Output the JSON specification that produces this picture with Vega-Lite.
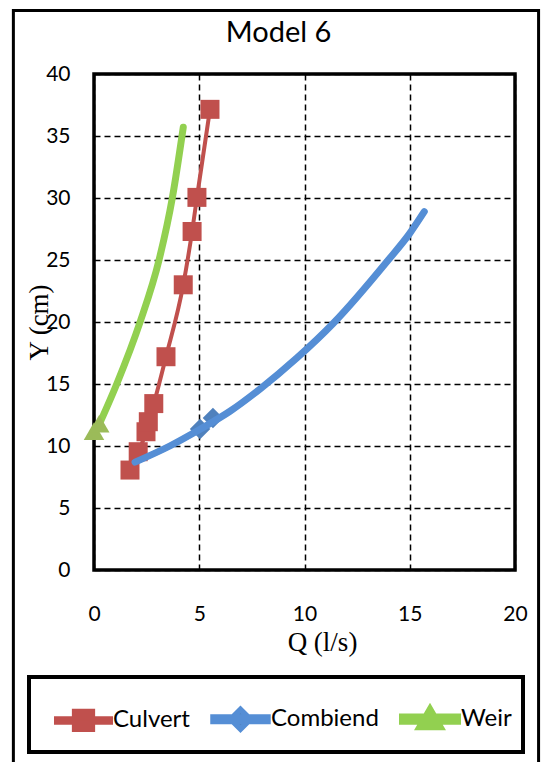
{
  "$schema": "https://vega.github.io/schema/vega-lite/v6.json",
  "width": 421,
  "height": 496,
  "autosize": "none",
  "padding": {"left": 94, "top": 74, "right": 27, "bottom": 192},
  "background": "white",
  "title": {"text": "Model 6", "font": "Lato", "fontSize": 29, "fontWeight": "normal", "color": "black", "anchor": "middle", "dx": -26, "offset": -38.5},
  "datasets": {
    "curves": [
      {"series": "Culvert", "Q": 1.71, "Y": 8.06},
      {"series": "Culvert", "Q": 2.1, "Y": 9.54},
      {"series": "Culvert", "Q": 2.47, "Y": 11.15},
      {"series": "Culvert", "Q": 2.58, "Y": 11.96},
      {"series": "Culvert", "Q": 2.84, "Y": 13.42},
      {"series": "Culvert", "Q": 3.42, "Y": 17.2},
      {"series": "Culvert", "Q": 4.24, "Y": 23.0},
      {"series": "Culvert", "Q": 4.66, "Y": 27.3},
      {"series": "Culvert", "Q": 4.89, "Y": 30.05},
      {"series": "Culvert", "Q": 5.51, "Y": 37.15},
      {"series": "Combiend", "Q": 1.95, "Y": 8.7},
      {"series": "Combiend", "Q": 3.6, "Y": 10.0},
      {"series": "Combiend", "Q": 5.04, "Y": 11.35},
      {"series": "Combiend", "Q": 6.46, "Y": 12.8},
      {"series": "Combiend", "Q": 7.89, "Y": 14.6},
      {"series": "Combiend", "Q": 9.64, "Y": 17.1},
      {"series": "Combiend", "Q": 11.37, "Y": 19.9},
      {"series": "Combiend", "Q": 13.98, "Y": 25.0},
      {"series": "Combiend", "Q": 15.0, "Y": 27.15},
      {"series": "Combiend", "Q": 15.69, "Y": 28.9},
      {"series": "Weir", "Q": 0.13, "Y": 11.3},
      {"series": "Weir", "Q": 1.08, "Y": 15.0},
      {"series": "Weir", "Q": 2.19, "Y": 20.0},
      {"series": "Weir", "Q": 3.09, "Y": 25.0},
      {"series": "Weir", "Q": 3.72, "Y": 30.0},
      {"series": "Weir", "Q": 4.24, "Y": 35.7}
    ],
    "markers": [
      {"series": "Culvert", "Q": 1.71, "Y": 8.06},
      {"series": "Culvert", "Q": 2.1, "Y": 9.54},
      {"series": "Culvert", "Q": 2.47, "Y": 11.15},
      {"series": "Culvert", "Q": 2.58, "Y": 11.96},
      {"series": "Culvert", "Q": 2.84, "Y": 13.42},
      {"series": "Culvert", "Q": 3.42, "Y": 17.2},
      {"series": "Culvert", "Q": 4.24, "Y": 23.0},
      {"series": "Culvert", "Q": 4.66, "Y": 27.3},
      {"series": "Culvert", "Q": 4.89, "Y": 30.05},
      {"series": "Culvert", "Q": 5.51, "Y": 37.15},
      {"series": "Combiend", "Q": 5.04, "Y": 11.37},
      {"series": "Combiend", "Q": 5.65, "Y": 12.26},
      {"series": "Weir", "Q": 0.0, "Y": 11.2},
      {"series": "Weir", "Q": 0.25, "Y": 11.8}
    ]
  },
  "layer": [
    {
      "data": {"values": [{"frame": 1}]},
      "mark": {"type": "rect", "fill": "transparent", "stroke": "black", "strokeWidth": 3, "clip": false},
      "encoding": {
        "x": {"datum": -3.83, "type": "quantitative", "scale": {"domain": [0, 20], "nice": false, "zero": false}},
        "x2": {"datum": 21.12},
        "y": {"datum": 45.12, "type": "quantitative", "scale": {"domain": [0, 40], "nice": false, "zero": false}},
        "y2": {"datum": -16}
      }
    },
    {
      "data": {"name": "curves"},
      "mark": {"type": "line", "interpolate": "monotone", "strokeCap": "round", "strokeJoin": "round"},
      "encoding": {
        "x": {
          "field": "Q", "type": "quantitative",
          "scale": {"domain": [0, 20], "nice": false, "zero": false},
          "axis": {
            "values": [0, 5, 10, 15, 20], "title": "Q (l/s)", "titleX": 228,
            "ticks": false, "domain": false, "labelPadding": 33, "labelFlush": false,
            "labelFont": "Lato", "labelFontSize": 21, "labelColor": "black",
            "titleFont": "Liberation Serif", "titleFontSize": 27, "titleFontWeight": "normal", "titleColor": "black", "titlePadding": 5,
            "grid": true, "gridColor": "black", "gridDash": [6, 4], "gridWidth": 1.5, "gridOpacity": 1
          }
        },
        "y": {
          "field": "Y", "type": "quantitative",
          "scale": {"domain": [0, 40], "nice": false, "zero": false},
          "axis": {
            "values": [0, 5, 10, 15, 20, 25, 30, 35, 40], "title": "Y (cm)",
            "ticks": false, "domain": false, "labelPadding": 24, "labelFlush": false,
            "labelFont": "Lato", "labelFontSize": 21, "labelColor": "black",
            "titleFont": "Liberation Serif", "titleFontSize": 27, "titleFontWeight": "normal", "titleColor": "black", "titlePadding": -8,
            "grid": true, "gridColor": "black", "gridDash": [6, 4], "gridWidth": 1.5, "gridOpacity": 1
          }
        },
        "order": {"field": "Y", "type": "quantitative"},
        "strokeWidth": {"field": "series", "type": "nominal", "scale": {"domain": ["Culvert", "Combiend", "Weir"], "range": [4, 7, 6]}, "legend": null},
        "color": {
          "field": "series", "type": "nominal",
          "scale": {"domain": ["Culvert", "Combiend", "Weir"], "range": ["#C0504D", "#558ED5", "#92D050"]},
          "legend": {
            "orient": "none", "legendX": -65, "legendY": 603,
            "direction": "horizontal", "title": null,
            "symbolSize": 3025, "symbolStrokeWidth": 0,
            "labelFont": "Lato", "labelFontSize": 24, "labelColor": "black",
            "labelOffset": 0, "columnPadding": 6, "padding": 11,
            "symbolOffset": 14,
            "encode": {
              "legend": {"update": {"stroke": {"value": "black"}, "strokeWidth": {"value": 4}}},
              "symbols": {"update": {
                "shape": {"signal": "datum.value === 'Culvert' ? 'M-1,-0.08 L1,-0.08 L1,0.08 L-1,0.08 Z M-0.35,-0.35 L0.35,-0.35 L0.35,0.35 L-0.35,0.35 Z' : datum.value === 'Combiend' ? 'M-1,-0.08 L1,-0.08 L1,0.08 L-1,0.08 Z M0,-0.36 L0.36,0 L0,0.36 L-0.36,0 Z' : 'M-1,-0.08 L1,-0.08 L1,0.08 L-1,0.08 Z M0,-0.34 L0.36,0.28 L-0.36,0.28 Z'"},
                "fill": {"signal": "datum.value === 'Culvert' ? '#C0504D' : datum.value === 'Combiend' ? '#4F81BD' : '#9BBB59'"},
                "stroke": {"value": "transparent"},
                "opacity": {"value": 1}
              }}
            }
          }
        }
      }
    },
    {
      "data": {"name": "markers"},
      "transform": [{"filter": "datum.series === 'Culvert'"}],
      "mark": {"type": "point", "filled": true, "shape": "square", "size": 361, "color": "#C0504D", "opacity": 1},
      "encoding": {"x": {"field": "Q", "type": "quantitative"}, "y": {"field": "Y", "type": "quantitative"}}
    },
    {
      "data": {"name": "markers"},
      "transform": [{"filter": "datum.series === 'Combiend'"}],
      "mark": {"type": "point", "filled": true, "shape": "diamond", "size": 420, "color": "#4F81BD", "opacity": 1},
      "encoding": {"x": {"field": "Q", "type": "quantitative"}, "y": {"field": "Y", "type": "quantitative"}}
    },
    {
      "data": {"name": "curves"},
      "transform": [{"filter": "datum.series === 'Combiend'"}],
      "mark": {"type": "line", "interpolate": "monotone", "strokeCap": "round", "strokeWidth": 7, "color": "#558ED5"},
      "encoding": {"x": {"field": "Q", "type": "quantitative"}, "y": {"field": "Y", "type": "quantitative"}, "order": {"field": "Y", "type": "quantitative"}}
    },
    {
      "data": {"name": "markers"},
      "transform": [{"filter": "datum.series === 'Weir'"}],
      "mark": {"type": "point", "filled": true, "shape": "triangle-up", "size": 420, "color": "#9BBB59", "opacity": 1},
      "encoding": {"x": {"field": "Q", "type": "quantitative"}, "y": {"field": "Y", "type": "quantitative"}}
    }
  ],
  "config": {
    "view": {"stroke": "black", "strokeWidth": 3.5},
    "font": "Lato"
  }
}
